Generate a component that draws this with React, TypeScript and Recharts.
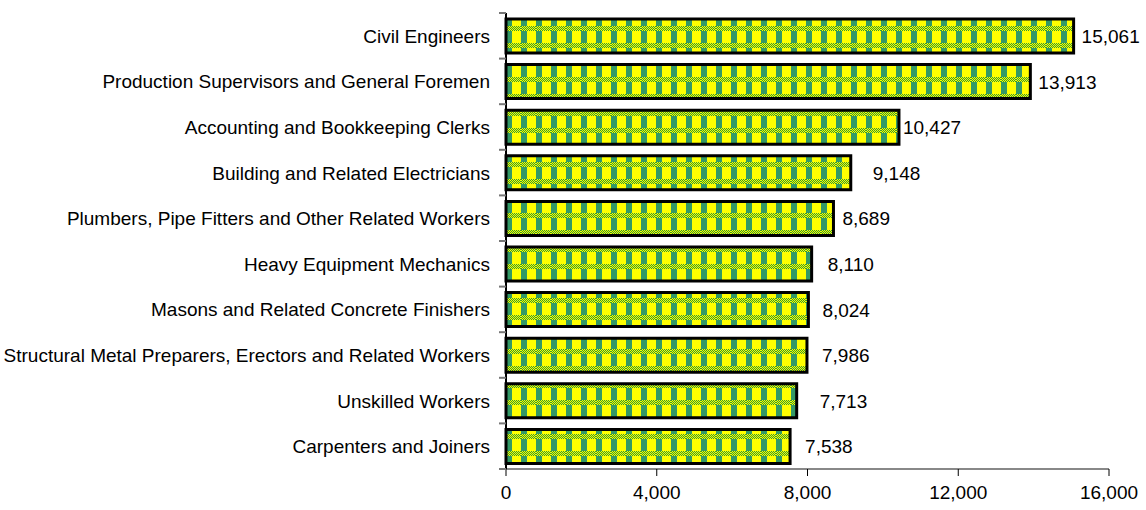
import { BarChart, Bar, XAxis, YAxis, LabelList } from "recharts";

const occupations = [
  "Civil Engineers",
  "Production Supervisors and General Foremen",
  "Accounting and Bookkeeping Clerks",
  "Building and Related Electricians",
  "Plumbers, Pipe Fitters and Other Related Workers",
  "Heavy Equipment Mechanics",
  "Masons and Related Concrete Finishers",
  "Structural Metal Preparers, Erectors and Related Workers",
  "Unskilled Workers ",
  "Carpenters and Joiners",
];
const workers = [15061, 13913, 10427, 9148, 8689, 8110, 8024, 7986, 7713, 7538];
const xTicks = [0, 4000, 8000, 12000, 16000];
// gap between bar end and its value label (labels were placed by hand in the original)
const labelGap = [8, 8, 4, 22, 9, 16, 14, 15, 23, 15];

const data = occupations.map((name, i) => ({ name, value: workers[i] }));

const FONT = "'Liberation Sans', Arial, sans-serif";

// checkered band inside the plaid fill
const dotCells: { x: number; y: number }[] = [];
for (let r = 0; r < 5; r++) {
  for (let c = 0; c < 15; c++) {
    if ((r + c) % 2 === 0) dotCells.push({ x: c, y: 12 + r });
  }
}

function CategoryTick(props: any) {
  const { x, y, payload, index, visibleTicksCount } = props;
  const band = 45.6;
  const axisX = x + 8;
  const last = index === (visibleTicksCount ?? occupations.length) - 1;
  return (
    <g>
      <text x={x - 8} y={y} dy={7} textAnchor="end" fontSize={19} fill="#000" fontFamily={FONT}>
        {payload.value}
      </text>
      <line x1={axisX - 7} x2={axisX} y1={y - band / 2} y2={y - band / 2} stroke="#777" strokeWidth={2} />
      {last && (
        <line x1={axisX - 7} x2={axisX} y1={y + band / 2} y2={y + band / 2} stroke="#777" strokeWidth={2} />
      )}
    </g>
  );
}

function ValueLabel(props: any) {
  const { x, y, width, height, value, index } = props;
  return (
    <text
      x={x + width + (labelGap[index] ?? 8)}
      y={y + height / 2}
      dy={7}
      fontSize={19}
      fill="#000"
      fontFamily={FONT}
    >
      {Number(value).toLocaleString("en-US")}
    </text>
  );
}

export default function App() {
  return (
    <div style={{ position: "absolute", left: 0, top: 0, background: "#fff" }}>
      <BarChart
        width={1146}
        height={510}
        data={data}
        layout="vertical"
        margin={{ top: 13, right: 37, bottom: 0, left: 0 }}
      >
        <defs>
          <pattern id="plaid" width="15" height="17" patternUnits="userSpaceOnUse" x="506" y="14">
            <rect width="15" height="17" fill="#ffff00" />
            <rect width="6" height="17" fill="#339966" />
            <rect y="12" width="15" height="5" fill="#ffff00" />
            {dotCells.map((d, i) => (
              <rect key={i} x={d.x} y={d.y} width="1" height="1" fill="#339933" />
            ))}
          </pattern>
        </defs>
        <XAxis
          type="number"
          domain={[0, 16000]}
          ticks={xTicks}
          tickFormatter={(v: number) => v.toLocaleString("en-US")}
          tick={{ fontSize: 19, fill: "#000", fontFamily: FONT }}
          axisLine={{ stroke: "#888", strokeWidth: 2 }}
          tickLine={{ stroke: "#000" }}
          tickSize={7}
          tickMargin={10}
          height={41}
          interval={0}
        />
        <YAxis
          type="category"
          dataKey="name"
          width={506}
          interval={0}
          tick={<CategoryTick />}
          tickLine={false}
          axisLine={{ stroke: "#000", strokeWidth: 2 }}
        />
        <Bar
          dataKey="value"
          fill="url(#plaid)"
          stroke="#000"
          strokeWidth={3}
          barSize={34}
          isAnimationActive={false}
        >
          <LabelList dataKey="value" content={<ValueLabel />} />
        </Bar>
      </BarChart>
    </div>
  );
}
